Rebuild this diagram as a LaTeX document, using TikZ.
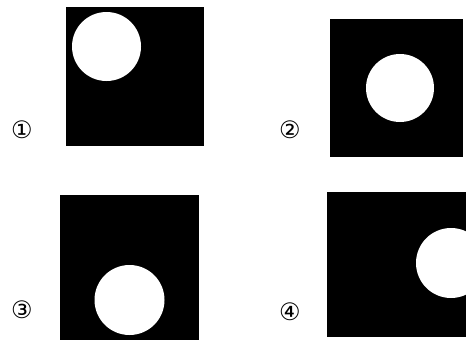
\documentclass[tikz,border=0pt]{standalone}
\usepackage{fontspec}
\newfontfamily\symfont{DejaVu Sans}
\usetikzlibrary{positioning}

\begin{document}
\begin{tikzpicture}[
  x=1pt, y=-1pt,
  plate/.style={fill=black},
  hole/.style={fill=white},
  num/.style={font=\symfont\fontsize{24}{24}\selectfont, inner sep=0pt}
]
\useasboundingbox (0,0) rectangle (466,340);

% Plate 1: hole top left
\fill[plate] (66,7) rectangle (204,146);
\fill[hole] (106.5,46.5) circle (34.5);
\node[num] (n1) at (22,130) {①};

% Plate 2: hole in the middle
\fill[plate] (330,19) rectangle (463,157);
\fill[hole] (400,88) circle (34);
\node[num] (n2) at (290,130) {②};

% Plate 3: hole at the bottom
\fill[plate] (60,195) rectangle (199,340);
\fill[hole] (129.5,300) circle (35);
\node[num] (n3) at (22,310) {③};

% Plate 4: hole cut at the right edge
\begin{scope}
\clip (327,192) rectangle (466,337);
\fill[plate] (327,192) rectangle (466,337);
\fill[hole] (451,263) circle (35);
\end{scope}
\node[num] (n4) at (290,312) {④};
\end{tikzpicture}
\end{document}
